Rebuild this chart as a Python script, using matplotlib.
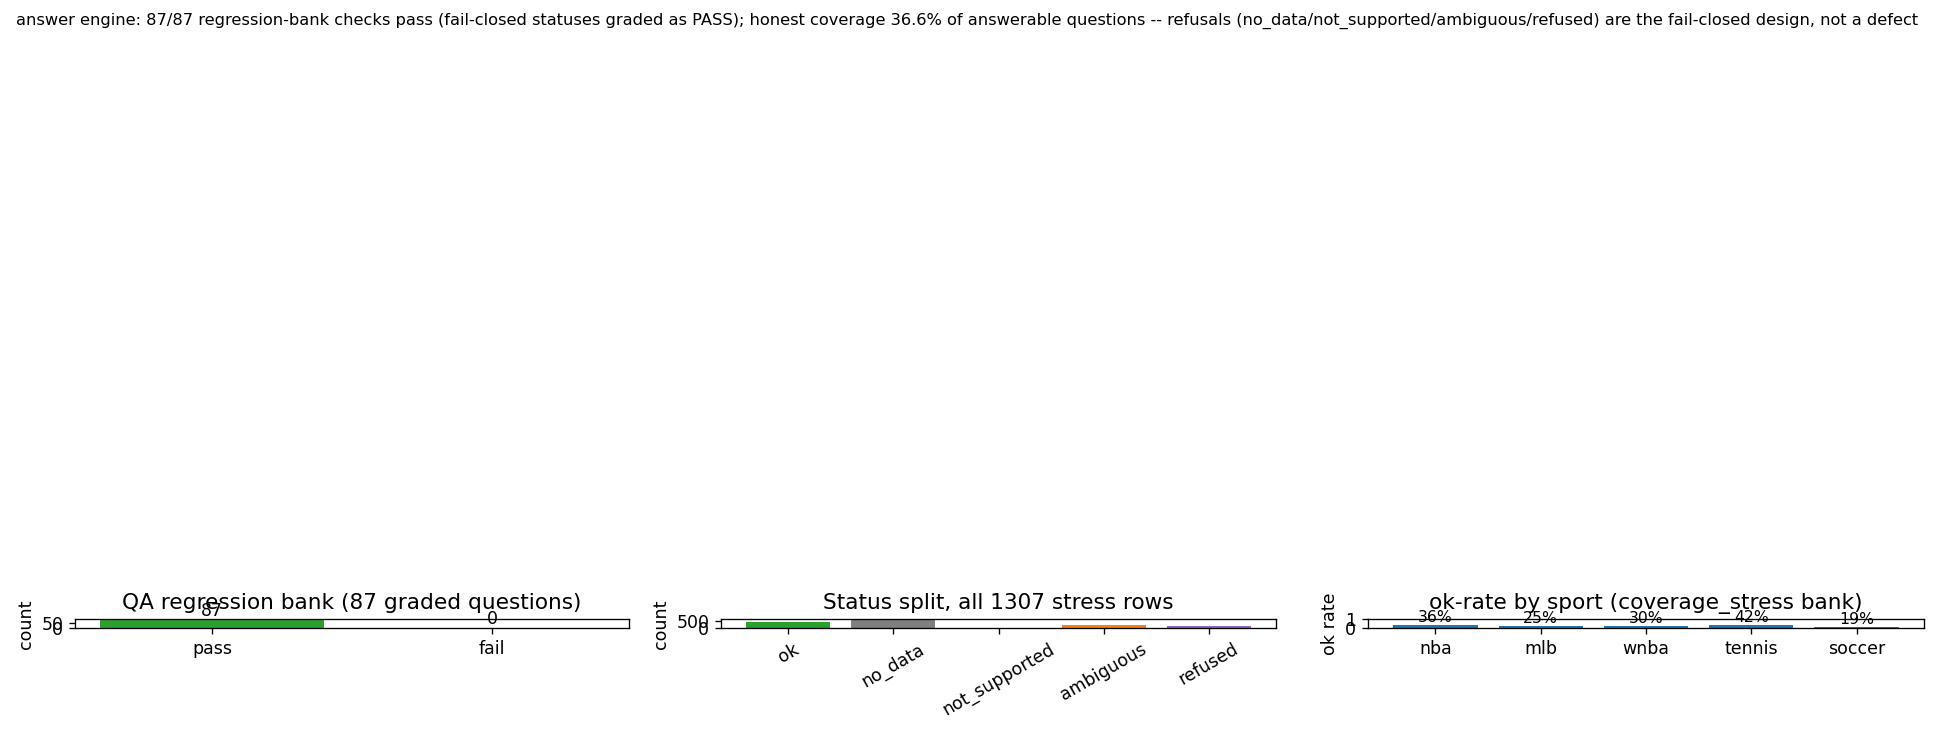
import matplotlib
matplotlib.use('Agg')
import matplotlib.pyplot as plt

# QA regression bank
qa_labels = ['pass', 'fail']
qa_counts = [87, 0]
qa_colors = ['#2ca02c', '#d62728']

# status split over the stress rows
status_labels = ['ok', 'no_data', 'not_supported', 'ambiguous', 'refused']
status_counts = [385, 552, 0, 227, 143]
status_colors = ['#2ca02c', '#7f7f7f', '#d62728', '#ff7f0e', '#9467bd']

# ok-rate by sport
sports = ['nba', 'mlb', 'wnba', 'tennis', 'soccer']
ok_rates = [0.36, 0.25, 0.30, 0.42, 0.19]

suptitle = ('answer engine: 87/87 regression-bank checks pass (fail-closed statuses graded as PASS); '
            'honest coverage 36.6% of answerable questions -- refusals '
            '(no_data/not_supported/ambiguous/refused) are the fail-closed design, not a defect')

plt.rcParams['xtick.labelsize'] = 10.4
plt.rcParams['ytick.labelsize'] = 10.4
plt.rcParams['axes.labelsize'] = 10.5
plt.rcParams['axes.titlesize'] = 13

W, H = 1936, 735
fig = plt.figure(figsize=(W / 120, H / 120), dpi=120)

# the panels are very flat strips at the bottom of the figure
def box(left, right, top=619.3, bottom=628.3):
    return [left / W, 1 - bottom / H, (right - left) / W, (bottom - top) / H]

ax1 = fig.add_axes(box(75, 629))
ax2 = fig.add_axes(box(721, 1276))
ax3 = fig.add_axes(box(1368, 1924))

# panel 1
b = ax1.bar(qa_labels, qa_counts, color=qa_colors)
ax1.bar_label(b, fontsize=10.4)
ax1.set_ylabel('count')
ax1.set_title('QA regression bank (87 graded questions)')

# panel 2
b = ax2.bar(status_labels, status_counts, color=status_colors)
ax2.set_ylabel('count')
ax2.set_title('Status split, all 1307 stress rows')
ax2.tick_params(axis='x', labelrotation=30)

# panel 3
b = ax3.bar(sports, ok_rates, color='#1f77b4')
ax3.bar_label(b, labels=[f'{r:.0%}' for r in ok_rates], fontsize=9.4)
ax3.set_ylim(0, 1)
ax3.set_ylabel('ok rate')
ax3.set_title('ok-rate by sport (coverage_stress bank)')

fig.suptitle(suptitle, fontsize=9.75, x=967.5 / W, y=0.983)

fig.savefig('out.png', dpi=120)
